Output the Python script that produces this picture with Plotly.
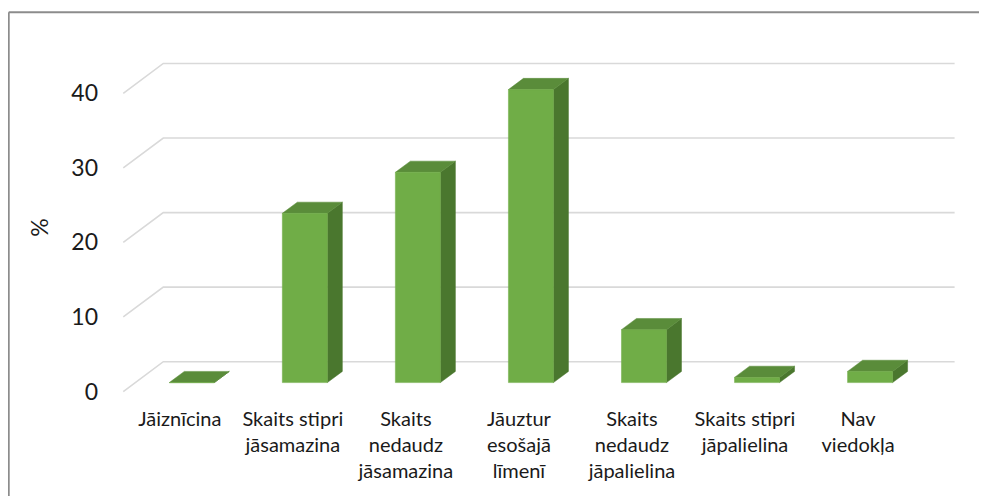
import plotly.graph_objects as go

# ---------------- data ----------------
categories = [
    "Jāiznīcina",
    "Skaits stipri<br>jāsamazina",
    "Skaits<br>nedaudz<br>jāsamazina",
    "Jāuztur<br>esošajā<br>līmenī",
    "Skaits<br>nedaudz<br>jāpalielina",
    "Skaits stipri<br>jāpalielina",
    "Nav<br>viedokļa",
]
values = [0.0, 22.7, 28.2, 39.3, 7.1, 0.7, 1.5]
y_ticks = [0, 10, 20, 30, 40]
y_title = "%"

# ---------------- geometry / style ----------------
OFF = 8               # default page body margin
W_PX, H_PX = 987 - OFF, 496 - OFF
PX_X = 113.0          # pixels per category unit
PX_Y = 7.47           # pixels per value unit
DX = 40 / PX_X        # full depth offset in x units
DY = 4.0              # full depth offset in value units
BAR_W = 45 / PX_X
F0, F1 = 0.30, 0.675  # bar depth start / end fractions

X_RANGE = [-0.52, len(categories) - 0.5 + DX + 0.03]
Y_RANGE = [-1.0, 45.0]

X0_PX = 123.5 - OFF - 0.02 * PX_X      # figure pixel of X_RANGE[0]
Y0_PX = 392 - OFF + 1.0 * PX_Y         # figure pixel of Y_RANGE[0]
plot_w = (X_RANGE[1] - X_RANGE[0]) * PX_X
plot_h = (Y_RANGE[1] - Y_RANGE[0]) * PX_Y
m_l = X0_PX
m_r = W_PX - (X0_PX + plot_w)
m_b = H_PX - Y0_PX
m_t = Y0_PX - plot_h

FRONT = "#70AD47"
TOP = "#5A8C3A"
SIDE = "#4A772E"
GRID = "#D9D9D9"
FONT = "Lato"

fig = go.Figure()

# gridlines: left wall diagonal + back wall horizontal
gx, gy = [], []
x_left = -0.5
x_right = len(categories) - 0.5 + DX
for t in y_ticks:
    gx += [x_left, x_left + DX, x_right, None]
    gy += [t, t + DY, t + DY, None]
fig.add_trace(go.Scatter(x=gx, y=gy, mode="lines",
                         line=dict(color=GRID, width=1.6),
                         hoverinfo="skip", showlegend=False))

# bars (front, top, side faces)
fx, fy, tx, ty, sx, sy = [], [], [], [], [], []
for k, v in enumerate(values):
    l = k - BAR_W / 2
    r = k + BAR_W / 2
    ax, ay = F0 * DX, F0 * DY
    bx, by = F1 * DX, F1 * DY
    fx += [l + ax, r + ax, r + ax, l + ax, l + ax, None]
    fy += [ay, ay, v + ay, v + ay, ay, None]
    tx += [l + ax, r + ax, r + bx, l + bx, l + ax, None]
    ty += [v + ay, v + ay, v + by, v + by, v + ay, None]
    sx += [r + ax, r + bx, r + bx, r + ax, r + ax, None]
    sy += [ay, by, v + by, v + ay, ay, None]

for xs, ys, col in [(sx, sy, SIDE), (tx, ty, TOP), (fx, fy, FRONT)]:
    fig.add_trace(go.Scatter(x=xs, y=ys, mode="lines", fill="toself",
                             fillcolor=col, line=dict(color=col, width=0.5),
                             hoverinfo="skip", showlegend=False))


def px2paper_x(p):
    return (p - OFF - m_l) / plot_w


def px2paper_y(p):
    return (H_PX - m_b - (p - OFF)) / plot_h


# outer chart border (top and left edges only are visible)
border = dict(color="#8C8C8C", width=2)
fig.add_shape(type="line", xref="paper", yref="paper",
              x0=px2paper_x(9), x1=px2paper_x(990),
              y0=px2paper_y(12), y1=px2paper_y(12), line=border, layer="below")
fig.add_shape(type="line", xref="paper", yref="paper",
              x0=px2paper_x(9), x1=px2paper_x(9),
              y0=px2paper_y(12), y1=px2paper_y(500), line=border, layer="below")

fig.update_layout(
    width=W_PX, height=H_PX,
    margin=dict(l=m_l, r=m_r, t=m_t, b=m_b, autoexpand=False),
    paper_bgcolor="white", plot_bgcolor="white",
    font=dict(family=FONT, color="#1a1a1a"),
    showlegend=False,
    xaxis=dict(range=X_RANGE, tickmode="array",
               tickvals=list(range(len(categories))), ticktext=categories,
               showgrid=False, zeroline=False, showline=False, ticks="",
               tickfont=dict(size=20, family=FONT, color="#1a1a1a"),
               ticklabelstandoff=6, fixedrange=True),
    yaxis=dict(range=Y_RANGE, tickmode="array", tickvals=y_ticks,
               showgrid=False, zeroline=False, showline=False, ticks="",
               tickfont=dict(size=23, family=FONT, color="#1a1a1a"),
               ticklabelstandoff=22,
               title=dict(text=y_title, font=dict(size=23, family=FONT, color="#1a1a1a"),
                          standoff=16),
               fixedrange=True),
)

fig.write_html("out.html")
